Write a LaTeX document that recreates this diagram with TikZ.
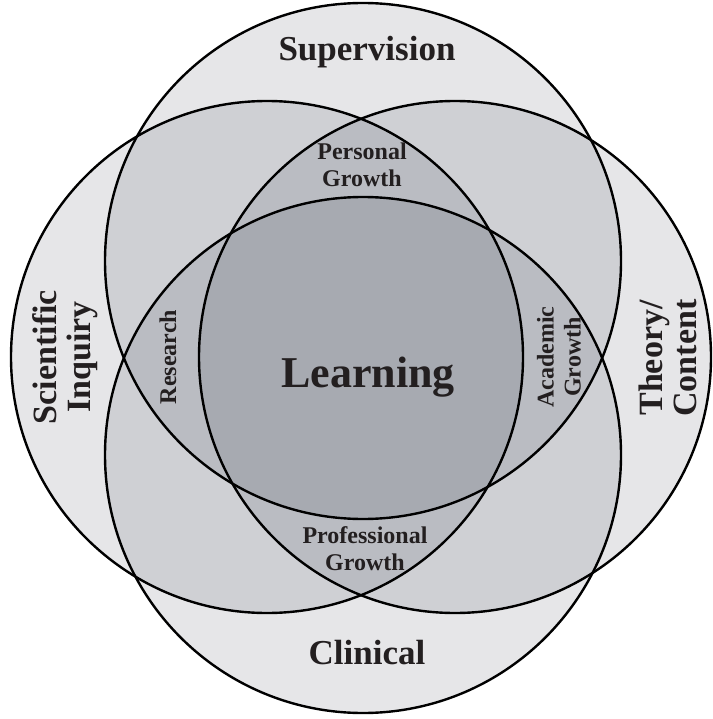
\documentclass[tikz,border=0pt]{standalone}
\usepackage{fontspec}
\setmainfont{Liberation Serif}
\definecolor{inkdark}{RGB}{35,31,32}
\definecolor{veil}{RGB}{0,10,30}
\begin{document}
\begin{tikzpicture}[x=1pt,y=-1pt,
  ring/.style={fill=veil,fill opacity=0.098},
  rim/.style={draw=black,line width=2.4pt},
  biglabel/.style={text=inkdark,font=\fontsize{35}{35}\selectfont\bfseries,align=center,inner sep=0pt},
  midlabel/.style={text=inkdark,font=\fontsize{34}{34}\selectfont\bfseries,align=center,inner sep=0pt},
  smalllabel/.style={text=inkdark,font=\fontsize{24}{27}\selectfont\bfseries,align=center,inner sep=0pt},
  centrelabel/.style={text=inkdark,font=\fontsize{44}{44}\selectfont\bfseries,inner sep=0pt}]
\useasboundingbox (0,0) rectangle (712,719);
\fill[white] (0,0) rectangle (712,719);
% the four overlapping circles
\coordinate (cTop) at (363,261);
\coordinate (cBot) at (363,455);
\coordinate (cLeft) at (267,357);
\coordinate (cRight) at (455,357);
\foreach \c/\r in {cTop/258,cBot/258,cLeft/256,cRight/256}
  \fill[ring] (\c) circle[radius=\r pt];
\foreach \c/\r in {cTop/258,cBot/258,cLeft/256,cRight/256}
  \draw[rim] (\c) circle[radius=\r pt];
% circle names
\node[biglabel] (sup) at (367,52) {Supervision};
\node[biglabel] (cli) at (367,653) {Clinical};
\node[midlabel,rotate=90] (sci) at (65,357) {Scientific\\Inquiry};
\node[midlabel,rotate=90] (the) at (668,358) {Theory/\\Content};
% overlap names
\node[smalllabel] (per) at (362,165) {Personal\\Growth};
\node[smalllabel] (pro) at (365,549) {Professional\\Growth};
\node[smalllabel,rotate=90] (res) at (168,357) {Research};
\node[smalllabel,rotate=90] (aca) at (559,357) {Academic\\Growth};
\node[centrelabel] (lea) at (368,377) {Learning};
\end{tikzpicture}
\end{document}
